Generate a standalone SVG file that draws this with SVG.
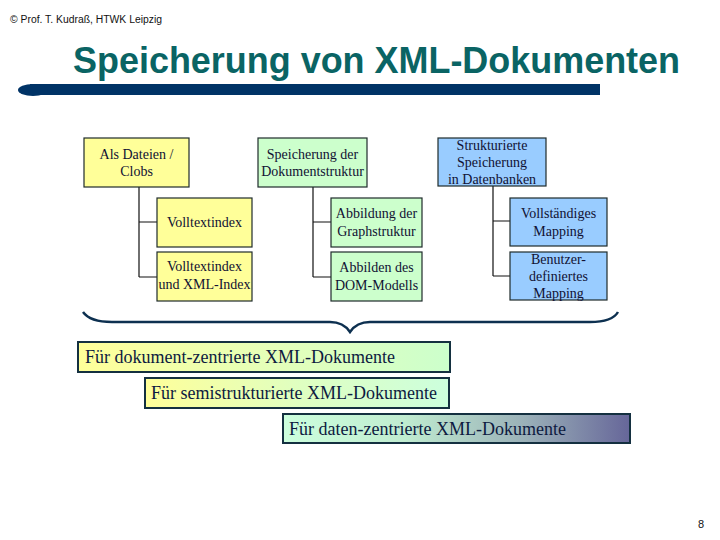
<svg xmlns="http://www.w3.org/2000/svg" width="720" height="540" viewBox="0 0 720 540">
<style>
.box{stroke:#1e2b2b;stroke-width:1.2}
.y{fill:#ffff99}
.g{fill:#ccffcc}
.b{fill:#99ccff}
.t{font-family:"Liberation Serif","Times New Roman",serif;font-size:14px;fill:#111133;text-anchor:middle}
.bt{font-family:"Liberation Serif","Times New Roman",serif;font-size:18px;fill:#0d1a40}
.ln{stroke:#111;stroke-width:1.2;fill:none}
.wb{stroke:#143040;stroke-width:2}
</style>
<defs>
<linearGradient id="gA" x1="0" y1="0" x2="1" y2="0">
<stop offset="0" stop-color="#ffff99"/><stop offset="0.5" stop-color="#e6ffb8"/><stop offset="1" stop-color="#ccffcc"/>
</linearGradient>
<linearGradient id="gB" x1="0" y1="0" x2="1" y2="0">
<stop offset="0" stop-color="#ffff99"/><stop offset="0.5" stop-color="#e0ffc0"/><stop offset="1" stop-color="#ccffdd"/>
</linearGradient>
<linearGradient id="gC" x1="0" y1="0" x2="1" y2="0">
<stop offset="0" stop-color="#ccffdd"/><stop offset="0.35" stop-color="#c0ecd0"/><stop offset="0.7" stop-color="#9ab0b8"/><stop offset="1" stop-color="#666699"/>
</linearGradient>
</defs>
<rect width="720" height="540" fill="#ffffff"/>
<text x="10" y="23" font-family="Liberation Sans,Arial,sans-serif" font-size="10" fill="#111" textLength="152" lengthAdjust="spacingAndGlyphs">© Prof. T. Kudraß, HTWK Leipzig</text>
<text x="73" y="73" font-family="Liberation Sans,Arial,sans-serif" font-size="37" font-weight="bold" fill="#0a6464" textLength="607" lengthAdjust="spacingAndGlyphs">Speicherung von XML-Dokumenten</text>
<g id="bar" fill="#003366">
<rect x="30" y="84" width="570" height="11"/>
<ellipse cx="33" cy="90" rx="15" ry="6"/>
</g>
<g id="connectors" class="ln">
<path d="M139 187V277M139 222H157M139 277H157"/>
<path d="M313 187V277M313 222H331M313 277H331"/>
<path d="M493 186V276M493 221H510M493 276H510"/>
<path d="M83 312C88 319 98 322 112 322H330C340 322 346 326 350 332C354 326 360 322 370 322H590C604 322 614 319 618 312" stroke="#0d3050" stroke-width="2.5"/>
</g>
<g id="n1"><rect class="box y" x="84" y="138" width="105" height="49"/><text class="t" x="136.5" y="159">Als Dateien /</text><text class="t" x="136.5" y="176">Clobs</text></g>
<g id="n2"><rect class="box y" x="157" y="198" width="95" height="49"/><text class="t" x="204.5" y="227">Volltextindex</text></g>
<g id="n3"><rect class="box y" x="157" y="252" width="95" height="49"/><text class="t" x="204.5" y="271">Volltextindex</text><text class="t" x="204.5" y="289">und XML-Index</text></g>
<g id="n4"><rect class="box g" x="258" y="138" width="109" height="49"/><text class="t" x="312.5" y="159">Speicherung der</text><text class="t" x="312.5" y="176">Dokumentstruktur</text></g>
<g id="n5"><rect class="box g" x="331" y="198" width="91" height="49"/><text class="t" x="376.5" y="218">Abbildung der</text><text class="t" x="376.5" y="236">Graphstruktur</text></g>
<g id="n6"><rect class="box g" x="331" y="252" width="91" height="49"/><text class="t" x="376.5" y="272">Abbilden des</text><text class="t" x="376.5" y="290">DOM-Modells</text></g>
<g id="n7"><rect class="box b" x="438" y="138" width="108" height="48"/><text class="t" x="492" y="150">Strukturierte</text><text class="t" x="492" y="167">Speicherung</text><text class="t" x="492" y="184">in Datenbanken</text></g>
<g id="n8"><rect class="box b" x="510" y="198" width="97" height="48"/><text class="t" x="558.5" y="218">Vollständiges</text><text class="t" x="558.5" y="236">Mapping</text></g>
<g id="n9"><rect class="box b" x="510" y="252" width="97" height="48"/><text class="t" x="558.5" y="264">Benutzer-</text><text class="t" x="558.5" y="281">definiertes</text><text class="t" x="558.5" y="298">Mapping</text></g>
<g id="bA"><rect class="wb" x="78" y="342" width="372" height="30" fill="url(#gA)"/><text class="bt" x="85" y="363">Für dokument-zentrierte XML-Dokumente</text></g>
<g id="bB"><rect class="wb" x="145" y="378" width="304" height="30" fill="url(#gB)"/><text class="bt" x="151" y="399">Für semistrukturierte XML-Dokumente</text></g>
<g id="bC"><rect class="wb" x="283" y="414" width="347" height="29" fill="url(#gC)"/><text class="bt" x="289" y="435">Für daten-zentrierte XML-Dokumente</text></g>
<text x="698" y="528" font-family="Liberation Sans,Arial,sans-serif" font-size="11" fill="#111">8</text>
</svg>
